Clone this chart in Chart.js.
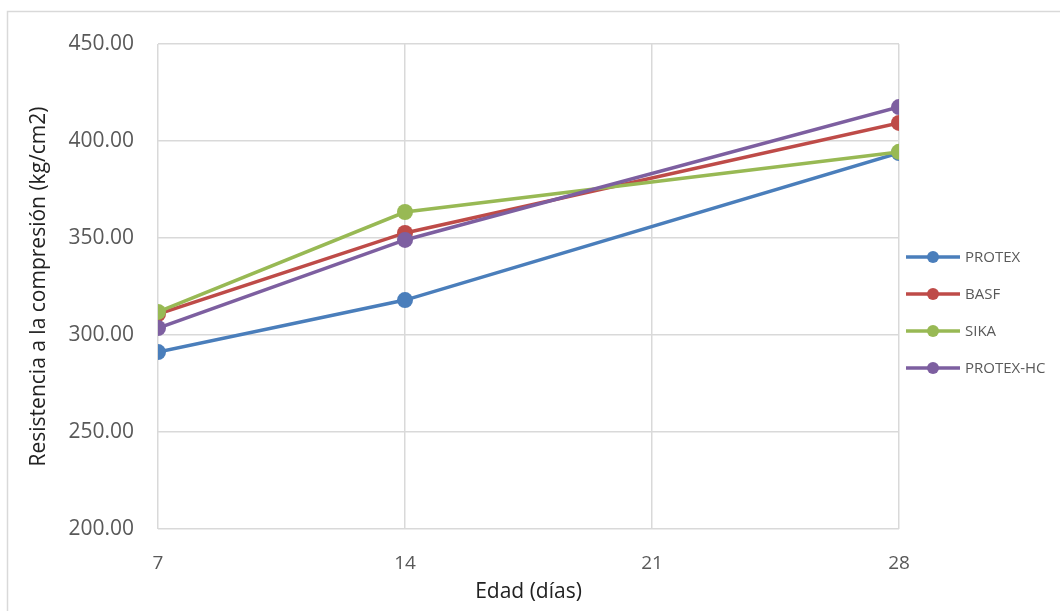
<!DOCTYPE html>
<html>
<head>
<meta charset="utf-8">
<script src="https://cdn.jsdelivr.net/npm/chart.js@4"></script>
<style>
  html, body { margin: 0; padding: 0; background: #fff; }
  #wrap { width: 1060px; height: 611px; position: relative; }
</style>
</head>
<body>
<div id="wrap"><canvas id="myChart" width="1060" height="611"></canvas></div>
<script>
var edades = [7, 14, 28]
var xTicks = [7, 14, 21, 28]
var seriesNames = ['PROTEX', 'BASF', 'SIKA', 'PROTEX-HC']
var protex = [291.2, 318.0, 393.8]
var basf = [310.8, 352.6, 409.3]
var sika = [311.9, 363.4, 394.4]
var protexHC = [303.6, 349.0, 417.5]
var colors = ['#4a7ebb', '#be4b48', '#98b954', '#7d5fa0']

var font = "'Open Sans', 'DejaVu Sans', sans-serif"

function toPoints(values) {
  return values.map((v, i) => ({ x: edades[i], y: v }))
}

var allSeries = [protex, basf, sika, protexHC]
var datasets = allSeries.map((vals, i) => ({
  label: seriesNames[i],
  data: toPoints(vals),
  borderColor: colors[i],
  backgroundColor: colors[i],
  pointBackgroundColor: colors[i],
  pointBorderColor: colors[i],
  borderWidth: 3.5,
  pointRadius: 8,
  pointBorderWidth: 0,
  tension: 0,
  order: 3 - i
}))

// outer frame + legend drawn by hand (line + dot like the original)
var framePlugin = {
  id: 'frame',
  beforeDraw(chart) {
    var c = chart.ctx
    c.save()
    c.fillStyle = '#fff'
    c.fillRect(0, 0, chart.width, chart.height)
    c.strokeStyle = '#d9d9d9'
    c.lineWidth = 1.5
    c.strokeRect(7.5, 11.5, chart.width + 10, chart.height + 10)
    c.restore()
  },
  afterDraw(chart) {
    var c = chart.ctx
    c.save()
    c.font = '15px ' + font
    c.textBaseline = 'middle'
    c.textAlign = 'left'
    chart.data.datasets.forEach((ds, i) => {
      var y = 257 + i * 37
      c.strokeStyle = ds.borderColor
      c.lineWidth = 3.5
      c.beginPath()
      c.moveTo(906, y)
      c.lineTo(960, y)
      c.stroke()
      c.fillStyle = ds.borderColor
      c.beginPath()
      c.arc(933, y, 6, 0, Math.PI * 2)
      c.fill()
      c.fillStyle = '#595959'
      c.fillText(ds.label, 965, y + 1)
    })
    c.restore()
  }
}

var ctx = document.getElementById('myChart').getContext('2d')
var chart = new Chart(ctx, {
  type: 'line',
  data: { datasets: datasets },
  options: {
    responsive: false,
    animation: false,
    layout: { padding: { left: 10, top: 44, right: 161, bottom: 0 } },
    plugins: {
      legend: { display: false },
      tooltip: { enabled: false }
    },
    scales: {
      x: {
        type: 'linear',
        min: 7,
        max: 28,
        afterBuildTicks: (scale) => { scale.ticks = xTicks.map(v => ({ value: v })) },
        afterFit: (scale) => { scale.height = 82 },
        grid: { color: '#d9d9d9', lineWidth: 1.5, drawTicks: false },
        border: { display: false },
        ticks: {
          color: '#595959',
          font: { family: font, size: 19 },
          padding: 23,
          maxRotation: 0
        },
        title: {
          display: true,
          text: 'Edad (días)',
          color: '#222',
          font: { family: font, size: 21 },
          padding: { top: 0, bottom: 6 }
        }
      },
      y: {
        min: 200,
        max: 450,
        afterFit: (scale) => { scale.width = 148 },
        grid: { color: '#d9d9d9', lineWidth: 1.5, drawTicks: false },
        border: { display: false },
        ticks: {
          stepSize: 50,
          color: '#595959',
          font: { family: font, size: 21 },
          padding: 24,
          callback: (v) => v.toFixed(2)
        },
        title: {
          display: true,
          text: 'Resistencia a la compresión (kg/cm2)',
          color: '#222',
          font: { family: font, size: 21 },
          padding: { top: 16, bottom: 0 }
        }
      }
    }
  },
  plugins: [framePlugin]
})
</script>
</body>
</html>
